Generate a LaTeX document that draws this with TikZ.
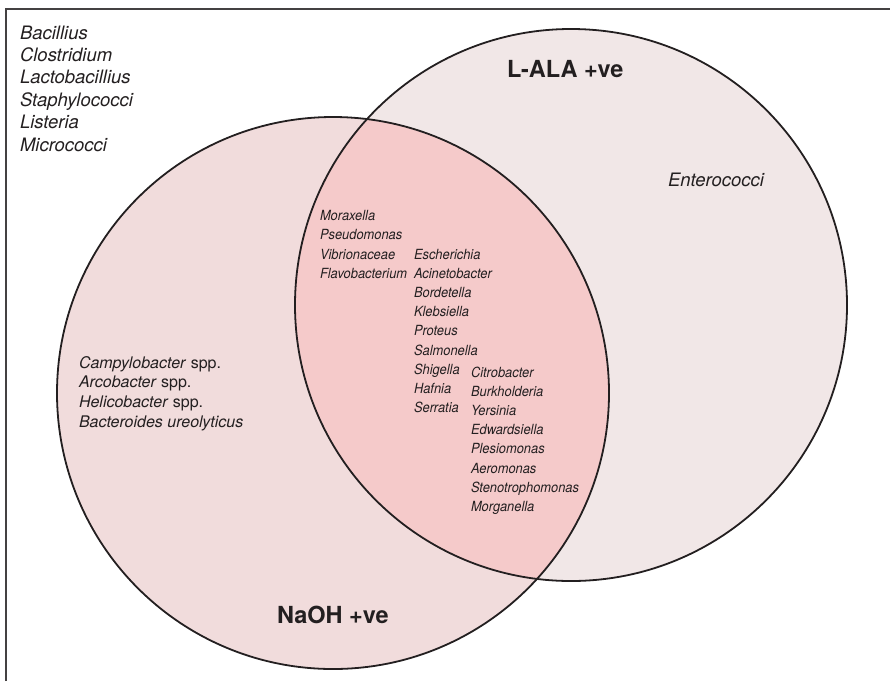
\documentclass[tikz,border=0pt]{standalone}
\usepackage{fontspec}
\setmainfont{TeX Gyre Heros}
\newfontfamily\narrowheros[FakeStretch=0.92]{TeX Gyre Heros}
\definecolor{ink}{HTML}{231F20}
\definecolor{naohfill}{HTML}{F1DCDC}
\definecolor{alafill}{HTML}{F1E7E7}
\definecolor{bothfill}{HTML}{F5CACA}
\begin{document}
\begin{tikzpicture}[x=1pt,y=-1pt,
  every node/.style={inner sep=0pt, outer sep=0pt, anchor=base west, text=ink},
  biglist/.style={font=\fontsize{18.5}{22}\selectfont\itshape},
  midlist/.style={font=\fontsize{16}{19}\selectfont},
  smalllist/.style={font=\narrowheros\fontsize{14}{16}\selectfont\itshape},
  setlabel/.style={font=\fontsize{23.5}{28}\selectfont\bfseries},
  ring/.style={draw=ink, line width=1.8pt}]
\useasboundingbox (0,0) rectangle (890,681);
% frame
\draw[ink!85, line width=1.1pt] (6,681) -- (6,9) -- (890,9);
% circles
\coordinate (cL) at (333,393);
\coordinate (cR) at (571,305);
\fill[naohfill] (cL) circle[radius=276];
\fill[alafill] (cR) circle[radius=276];
\begin{scope}
  \clip (cL) circle[radius=276];
  \fill[bothfill] (cR) circle[radius=276];
\end{scope}
\draw[ring] (cL) circle[radius=276];
\draw[ring] (cR) circle[radius=276];
% top-left list
\foreach \t [count=\i] in {Bacillius,Clostridium,Lactobacillius,Staphylococci,Listeria,Micrococci}
  \node[biglist] (tl\i) at (20,{39+(\i-1)*22.4}) {\t};
% NaOH only
\node[midlist] (n1) at (79,368) {\textit{Campylobacter} spp.};
\node[midlist] (n2) at (79,387.7) {\textit{Arcobacter} spp.};
\node[midlist] (n3) at (79,407.4) {\textit{Helicobacter} spp.};
\node[midlist] (n4) at (79,427) {\textit{Bacteroides ureolyticus}};
% L-ALA only
\node[biglist] (ent) at (668,186) {Enterococci};
% intersection
\foreach \t [count=\i] in {Moraxella,Pseudomonas,Vibrionaceae,Flavobacterium}
  \node[smalllist] (a\i) at (320,{220.6+(\i-1)*19.2}) {\t};
\foreach \t [count=\i] in {Escherichia,Acinetobacter,Bordetella,Klebsiella,Proteus,Salmonella,Shigella,Hafnia,Serratia}
  \node[smalllist] (b\i) at (414,{259+(\i-1)*19.2}) {\t};
\foreach \t [count=\i] in {Citrobacter,Burkholderia,Yersinia,Edwardsiella,Plesiomonas,Aeromonas,Stenotrophomonas,Morganella}
  \node[smalllist] (c\i) at (471,{377+(\i-1)*19.2}) {\t};
% set labels
\node[setlabel] (lala) at (507,77) {L-ALA +ve};
\node[setlabel] (naoh) at (277,623) {NaOH +ve};
\end{tikzpicture}
\end{document}
